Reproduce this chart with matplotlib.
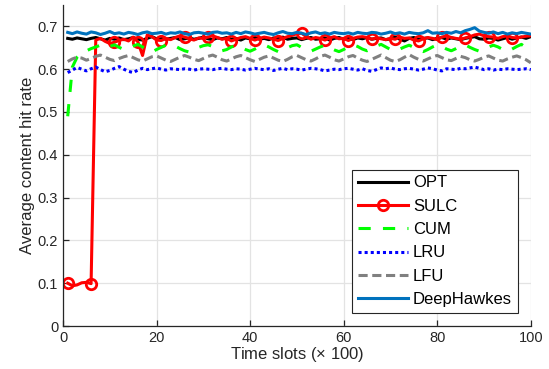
import matplotlib
matplotlib.use("Agg")
import matplotlib.pyplot as plt

plt.rcParams['font.family'] = ['Liberation Sans', 'DejaVu Sans']
plt.rcParams['mathtext.fontset'] = 'custom'
plt.rcParams['mathtext.rm'] = 'Liberation Sans'

# time slots (x 100)
slots = list(range(1, 101))

opt = [0.672, 0.670, 0.673, 0.671, 0.669, 0.672, 0.674, 0.671, 0.668, 0.672,
       0.670, 0.673, 0.669, 0.671, 0.674, 0.670, 0.668, 0.672, 0.676, 0.671,
       0.673, 0.670, 0.672, 0.674, 0.669, 0.671, 0.673, 0.670, 0.672, 0.675,
       0.671, 0.669, 0.673, 0.671, 0.674, 0.670, 0.672, 0.668, 0.673, 0.671,
       0.674, 0.670, 0.672, 0.669, 0.673, 0.671, 0.675, 0.670, 0.672, 0.673,
       0.669, 0.672, 0.674, 0.670, 0.671, 0.673, 0.668, 0.672, 0.674, 0.670,
       0.672, 0.669, 0.673, 0.671, 0.674, 0.670, 0.672, 0.673, 0.669, 0.671,
       0.675, 0.670, 0.666, 0.672, 0.674, 0.670, 0.672, 0.673, 0.669, 0.672,
       0.674, 0.670, 0.673, 0.671, 0.669, 0.672, 0.674, 0.676, 0.671, 0.670,
       0.673, 0.672, 0.668, 0.671, 0.674, 0.670, 0.673, 0.675, 0.672, 0.676]

sulc = [0.100, 0.094, 0.096, 0.101, 0.102, 0.099, 0.668, 0.672, 0.665, 0.660,
        0.663, 0.667, 0.670, 0.666, 0.675, 0.664, 0.632, 0.680, 0.676, 0.668,
        0.667, 0.672, 0.669, 0.674, 0.678, 0.675, 0.671, 0.668, 0.673, 0.672,
        0.675, 0.678, 0.674, 0.670, 0.672, 0.666, 0.670, 0.674, 0.676, 0.672,
        0.668, 0.672, 0.675, 0.673, 0.670, 0.667, 0.672, 0.676, 0.679, 0.683,
        0.684, 0.676, 0.670, 0.674, 0.672, 0.668, 0.673, 0.676, 0.671, 0.672,
        0.667, 0.672, 0.675, 0.676, 0.674, 0.670, 0.673, 0.671, 0.669, 0.672,
        0.670, 0.675, 0.672, 0.673, 0.668, 0.666, 0.671, 0.674, 0.672, 0.669,
        0.675, 0.678, 0.674, 0.672, 0.670, 0.673, 0.676, 0.680, 0.682, 0.678,
        0.676, 0.675, 0.672, 0.676, 0.678, 0.674, 0.673, 0.675, 0.677, 0.678]

cum = [0.490, 0.605, 0.628, 0.638, 0.643, 0.648, 0.652, 0.656, 0.650, 0.653,
       0.657, 0.651, 0.646, 0.649, 0.654, 0.658, 0.652, 0.645, 0.640, 0.646,
       0.651, 0.656, 0.658, 0.654, 0.648, 0.643, 0.640, 0.645, 0.651, 0.655,
       0.657, 0.653, 0.648, 0.643, 0.646, 0.652, 0.656, 0.651, 0.646, 0.642,
       0.647, 0.653, 0.657, 0.652, 0.646, 0.641, 0.645, 0.650, 0.655, 0.657,
       0.651, 0.646, 0.642, 0.647, 0.652, 0.656, 0.650, 0.645, 0.641, 0.646,
       0.652, 0.657, 0.653, 0.647, 0.643, 0.648, 0.654, 0.658, 0.652, 0.646,
       0.642, 0.647, 0.652, 0.656, 0.651, 0.645, 0.641, 0.646, 0.652, 0.657,
       0.653, 0.647, 0.643, 0.648, 0.654, 0.657, 0.651, 0.646, 0.642, 0.647,
       0.652, 0.656, 0.652, 0.646, 0.642, 0.647, 0.653, 0.658, 0.650, 0.640]

lru = [0.592, 0.598, 0.604, 0.600, 0.596, 0.601, 0.605, 0.599, 0.594, 0.597,
       0.602, 0.606, 0.600, 0.595, 0.592, 0.598, 0.602, 0.599, 0.601, 0.603,
       0.600, 0.598, 0.601, 0.600, 0.599, 0.601, 0.600, 0.598, 0.600, 0.601,
       0.600, 0.599, 0.601, 0.602, 0.600, 0.599, 0.601, 0.600, 0.598, 0.600,
       0.602, 0.600, 0.599, 0.601, 0.597, 0.600, 0.602, 0.599, 0.601, 0.600,
       0.598, 0.600, 0.602, 0.601, 0.599, 0.596, 0.598, 0.600, 0.599, 0.601,
       0.602, 0.600, 0.598, 0.601, 0.597, 0.595, 0.599, 0.603, 0.601, 0.603,
       0.600, 0.599, 0.601, 0.602, 0.600, 0.598, 0.600, 0.603, 0.601, 0.598,
       0.596, 0.601, 0.600, 0.599, 0.602, 0.601, 0.603, 0.605, 0.602, 0.599,
       0.601, 0.598, 0.600, 0.599, 0.601, 0.600, 0.599, 0.600, 0.601, 0.599]

lfu = [0.618, 0.624, 0.628, 0.626, 0.621, 0.625, 0.630, 0.633, 0.628, 0.623,
       0.620, 0.625, 0.629, 0.632, 0.627, 0.622, 0.619, 0.624, 0.629, 0.631,
       0.626, 0.621, 0.618, 0.623, 0.628, 0.632, 0.628, 0.623, 0.620, 0.625,
       0.630, 0.633, 0.628, 0.622, 0.619, 0.624, 0.629, 0.632, 0.627, 0.622,
       0.618, 0.623, 0.628, 0.631, 0.626, 0.621, 0.618, 0.623, 0.629, 0.632,
       0.627, 0.622, 0.619, 0.624, 0.630, 0.633, 0.628, 0.622, 0.619, 0.624,
       0.629, 0.632, 0.626, 0.621, 0.618, 0.623, 0.628, 0.633, 0.627, 0.621,
       0.618, 0.622, 0.628, 0.634, 0.628, 0.623, 0.619, 0.624, 0.629, 0.632,
       0.627, 0.622, 0.620, 0.625, 0.630, 0.627, 0.622, 0.619, 0.623, 0.628,
       0.631, 0.626, 0.621, 0.619, 0.624, 0.628, 0.631, 0.627, 0.622, 0.615]

deep = [0.686, 0.683, 0.687, 0.684, 0.682, 0.687, 0.685, 0.681, 0.684, 0.688,
        0.683, 0.685, 0.682, 0.686, 0.684, 0.681, 0.685, 0.687, 0.683, 0.684,
        0.686, 0.682, 0.685, 0.684, 0.687, 0.683, 0.681, 0.685, 0.686, 0.684,
        0.682, 0.686, 0.687, 0.684, 0.685, 0.682, 0.686, 0.683, 0.687, 0.685,
        0.682, 0.684, 0.686, 0.683, 0.681, 0.685, 0.688, 0.684, 0.683, 0.686,
        0.684, 0.681, 0.685, 0.687, 0.683, 0.685, 0.682, 0.686, 0.684, 0.683,
        0.685, 0.682, 0.686, 0.684, 0.683, 0.686, 0.685, 0.682, 0.684, 0.687,
        0.683, 0.685, 0.682, 0.686, 0.684, 0.683, 0.685, 0.690, 0.684, 0.685,
        0.683, 0.686, 0.684, 0.688, 0.685, 0.690, 0.693, 0.697, 0.689, 0.686,
        0.684, 0.687, 0.683, 0.686, 0.682, 0.685, 0.683, 0.686, 0.684, 0.682]

fig = plt.figure(figsize=(5.49, 3.69), dpi=100)
ax = fig.add_axes([0.1148, 0.1165, 0.852, 0.87])

lw = 2.2
ax.plot(slots, opt, color='black', lw=lw, label='OPT')
ax.plot(slots, sulc, color='red', lw=lw, marker='o', markevery=5, ms=7.5,
        mfc='none', mew=2.0, label='SULC')
ax.plot(slots, cum, color='#00FF00', lw=lw, ls=(0, (4, 4)), label='CUM')
ax.plot(slots, lru, color='blue', lw=lw, ls=(0, (1, 1)), label='LRU')
ax.plot(slots, lfu, color='#808080', lw=lw, ls=(0, (3, 1.5)), label='LFU')
ax.plot(slots, deep, color='#0072BD', lw=lw, label='DeepHawkes')

ax.set_xlim(0, 100)
ax.set_ylim(0, 0.75)
ax.set_xticks([0, 20, 40, 60, 80, 100])
ax.set_yticks([0, 0.1, 0.2, 0.3, 0.4, 0.5, 0.6, 0.7])
ax.set_yticklabels(['0', '0.1', '0.2', '0.3', '0.4', '0.5', '0.6', '0.7'])
ax.grid(True, color='#E3E3E3', lw=0.9)
ax.set_axisbelow(True)
ax.spines['top'].set_visible(False)
ax.spines['right'].set_visible(False)
for s in ['left', 'bottom']:
    ax.spines[s].set_color('#262626')
    ax.spines[s].set_linewidth(0.9)
ax.tick_params(direction='in', length=4, width=0.9, colors='#262626',
               labelsize=10.5, labelcolor='#262626')

ax.set_xlabel('Time slots ($\\times$ 100)', fontsize=12, color='#262626', labelpad=0)
ax.set_ylabel('Average content hit rate', fontsize=12, color='#262626', labelpad=2)

leg = ax.legend(loc='lower right', bbox_to_anchor=(0.99, 0.015), fontsize=12,
                handlelength=3.0, handletextpad=0.3, borderpad=0.35,
                labelspacing=0.5, fancybox=False, framealpha=1)
leg.get_frame().set_edgecolor('#262626')
leg.get_frame().set_linewidth(0.8)

fig.savefig('out.png', dpi=100)
